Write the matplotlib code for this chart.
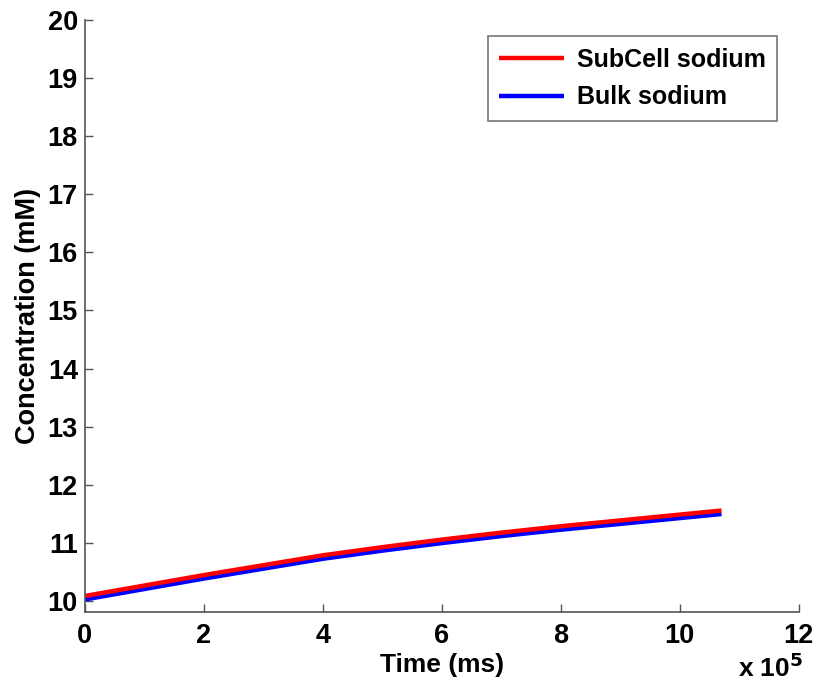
import matplotlib
matplotlib.use("Agg")
import matplotlib.pyplot as plt
import numpy as np

# Time in units of 1e5 ms
time = [0, 1, 2, 3, 4, 5, 6, 7, 8, 9, 10, 10.7]
subcell_na = [10.09, 10.27, 10.45, 10.62, 10.79, 10.93, 11.06, 11.18, 11.29, 11.39, 11.49, 11.56]
bulk_na = [10.03, 10.21, 10.39, 10.56, 10.73, 10.87, 11.00, 11.12, 11.23, 11.33, 11.43, 11.50]

xticks = [0, 2, 4, 6, 8, 10, 12]
yticks = list(range(10, 21))

plt.rcParams['font.family'] = ['Liberation Sans', 'DejaVu Sans']
plt.rcParams['font.weight'] = 'bold'

fig = plt.figure(figsize=(8.16, 6.87), dpi=100)
ax = fig.add_axes([0.104, 0.1096, 0.875, 0.8617])

ax.plot(time, bulk_na, color='#0000ff', lw=3.2, label='Bulk sodium', solid_capstyle='butt')
ax.plot(time, subcell_na, color='#ff0000', lw=3.2, label='SubCell sodium', solid_capstyle='butt')

ax.set_xlim(0, 12)
ax.set_ylim(9.82, 20)
ax.set_xticks(xticks)
ax.set_yticks(yticks)
ax.tick_params(direction='in', length=6, width=1, colors='#555555', labelcolor='black',
               labelsize=19.5)
ax.tick_params(axis='y', pad=5)
ax.tick_params(axis='x', pad=8)
for lab in ax.get_xticklabels() + ax.get_yticklabels():
    lab.set_fontweight('bold')

for side in ['top', 'right']:
    ax.spines[side].set_visible(False)
for side in ['left', 'bottom']:
    ax.spines[side].set_color('#555555')
    ax.spines[side].set_linewidth(1.2)

ax.set_xlabel('Time (ms)', fontsize=19, fontweight='bold', labelpad=3)
ax.set_ylabel('Concentration (mM)', fontsize=19.5, fontweight='bold', labelpad=5)

fig.text(0.905, 0.008, r'x 10$^{\mathbf{5}}$', fontsize=19, fontweight='bold', ha='left', va='bottom')

handles, labels = ax.get_legend_handles_labels()
leg = ax.legend(handles[::-1], labels[::-1], loc='upper right', bbox_to_anchor=(0.969, 0.972),
                fontsize=18, frameon=True, fancybox=False, handlelength=2.6,
                borderpad=0.45, labelspacing=0.55, handletextpad=0.5, borderaxespad=0)
leg.get_frame().set_edgecolor('#555555')
leg.get_frame().set_linewidth(1.2)
for t in leg.get_texts():
    t.set_fontweight('bold')

fig.savefig('out.png', dpi=100)
